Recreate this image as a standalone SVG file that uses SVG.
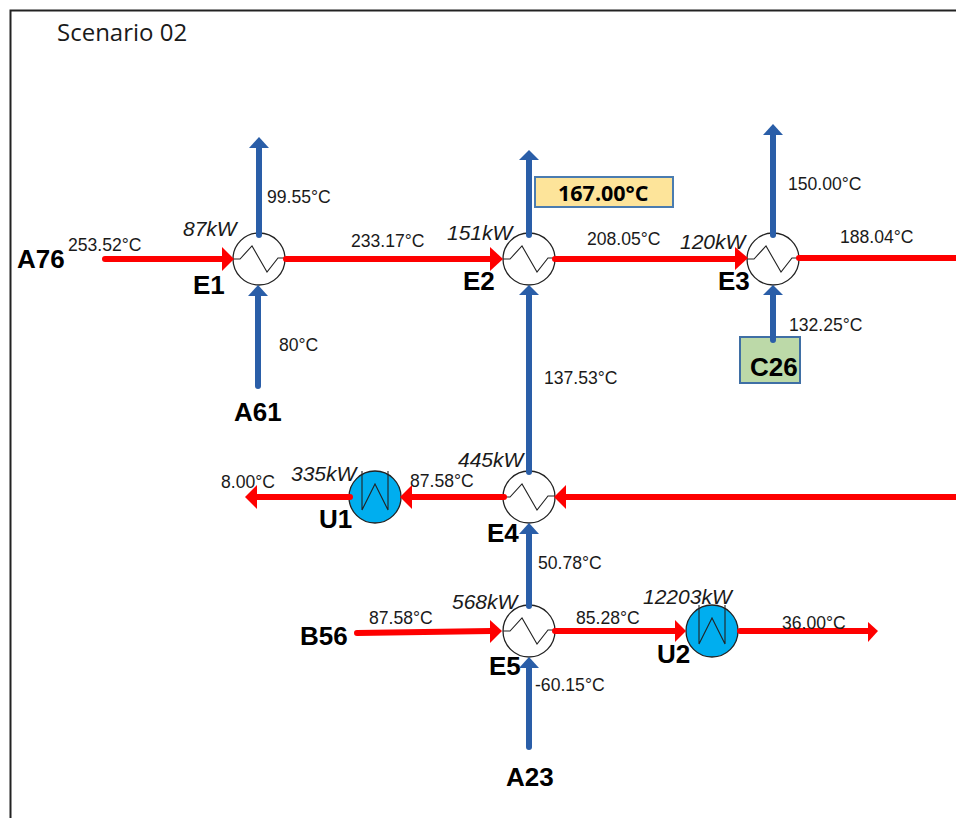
<svg xmlns="http://www.w3.org/2000/svg" width="956" height="818" viewBox="0 0 956 818">
<style>
text{font-family:"Liberation Sans",Arial,sans-serif;fill:#1a1a1a}
.t{font-size:17.600px}
.k{font-size:21px;font-style:italic}
.n{font-size:26px;font-weight:bold;fill:#000}
.r{stroke:#fe0000;stroke-width:6;stroke-linecap:round;fill:none}
.b{stroke:#2a5ea8;stroke-width:6;stroke-linecap:round;fill:none}
.rh{fill:#fe0000}
.bh{fill:#2a5ea8}
.hx{fill:#fff;stroke:#222;stroke-width:1.300}
.ht{fill:#00aeef;stroke:#222;stroke-width:1.300}
.z{fill:none;stroke:#222;stroke-width:1.100}
</style>
<defs>
<g id="exch"><circle class="hx" r="26"/><path class="z" d="M-26 0H-19L-7-13L8 13L19-1H26"/></g>
<g id="heat"><circle class="ht" r="26"/><path class="z" d="M-13-26V13L0-13L13 13V-26"/></g>
</defs>
<rect x="10.500" y="10.500" width="960" height="830" fill="#fff" stroke="#222" stroke-width="2"/>
<text x="57" y="41" style="font-family:'Open Sans','Noto Sans',sans-serif;font-size:24px">Scenario 02</text>
<g id="E1"><use href="#exch" x="259" y="259"/><text class="n" x="193" y="294">E1</text><text class="k" x="183" y="236">87kW</text></g>
<g id="E2"><use href="#exch" x="529" y="259"/><text class="n" x="463" y="290">E2</text><text class="k" x="447" y="240">151kW</text></g>
<g id="E3"><use href="#exch" x="773" y="259"/><text class="n" x="718" y="290">E3</text><text class="k" x="680" y="249">120kW</text></g>
<g id="E4"><use href="#exch" x="529" y="497"/><text class="n" x="487" y="542">E4</text><text class="k" x="458" y="467">445kW</text></g>
<g id="E5"><use href="#exch" x="529" y="631"/><text class="n" x="489" y="675">E5</text><text class="k" x="452" y="609">568kW</text></g>
<g id="U1"><use href="#heat" x="375" y="497"/><text class="n" x="319" y="528">U1</text><text class="k" x="291" y="481">335kW</text></g>
<g id="U2"><use href="#heat" x="712" y="631"/><text class="n" x="657" y="663">U2</text><text class="k" x="643" y="604">12203kW</text></g>
<g id="C26"><rect x="740" y="337" width="60" height="46" fill="#bcd9a8" stroke="#3f6fa5" stroke-width="2"/><text class="n" x="750" y="376">C26</text></g>
<g id="T167"><rect x="535" y="177" width="138" height="30" fill="#fde49a" stroke="#4a7cb0" stroke-width="2"/><text x="558" y="201" style="font-family:'Open Sans','Noto Sans',sans-serif;font-size:21.500px;font-weight:bold;fill:#000">167.00°C</text></g>
<g id="A76"><text class="n" x="17" y="268">A76</text></g>
<g id="A61"><text class="n" x="234" y="421">A61</text></g>
<g id="B56"><text class="n" x="300" y="645">B56</text></g>
<g id="A23"><text class="n" x="506" y="786">A23</text></g>
<g id="connectors">
<path class="r" d="M105 259H224"/><path class="rh" d="M222 247L234 259L222 271Z"/>
<path class="r" d="M286 259H492"/><path class="rh" d="M490 247L503 259L490 271Z"/>
<path class="r" d="M555 259H737"/><path class="rh" d="M735 247L748 258L735 270Z"/>
<path class="r" d="M799 258H956"/>
<path class="r" d="M956 497H566"/><path class="rh" d="M566 485L554 497L566 509Z"/>
<path class="r" d="M504 497H412"/><path class="rh" d="M412 485L400 497L412 509Z"/>
<path class="r" d="M350 497H254"/><path class="rh" d="M257 485L245 497L257 509Z"/>
<path class="r" d="M357 633L491 631"/><path class="rh" d="M490 620L502 631L490 643Z"/>
<path class="r" d="M555 631H675"/><path class="rh" d="M675 620L686 631L675 642Z"/>
<path class="r" d="M740 631H868"/><path class="rh" d="M868 622L878 631L868 642Z"/>
<path class="b" d="M259 235V147"/><path class="bh" d="M249 148L259 137L269 148Z"/>
<path class="b" d="M258 386V295"/><path class="bh" d="M248 296L258 285L268 296Z"/>
<path class="b" d="M529 235V160"/><path class="bh" d="M519 160L529 150L539 160Z"/>
<path class="b" d="M529 472V295"/><path class="bh" d="M519 295L529 285L539 295Z"/>
<path class="b" d="M773 235V134"/><path class="bh" d="M763 135L773 124L783 135Z"/>
<path class="b" d="M773 340V295"/><path class="bh" d="M763 295L773 285L783 295Z"/>
<path class="b" d="M529 606V534"/><path class="bh" d="M519 534L529 523L539 534Z"/>
<path class="b" d="M529 747V668"/><path class="bh" d="M519 668L529 657L539 668Z"/>
</g>
<g id="labels">
<text class="t" x="68" y="251">253.52°C</text>
<text class="t" x="267" y="203">99.55°C</text>
<text class="t" x="279" y="351">80°C</text>
<text class="t" x="351" y="247">233.17°C</text>
<text class="t" x="587" y="245">208.05°C</text>
<text class="t" x="788" y="190">150.00°C</text>
<text class="t" x="840" y="243">188.04°C</text>
<text class="t" x="789" y="331">132.25°C</text>
<text class="t" x="544" y="384">137.53°C</text>
<text class="t" x="221" y="488">8.00°C</text>
<text class="t" x="410" y="487">87.58°C</text>
<text class="t" x="538" y="569">50.78°C</text>
<text class="t" x="369" y="624">87.58°C</text>
<text class="t" x="576" y="624">85.28°C</text>
<text class="t" x="782" y="629">36.00°C</text>
<text class="t" x="535" y="691">-60.15°C</text>
</g>
</svg>
